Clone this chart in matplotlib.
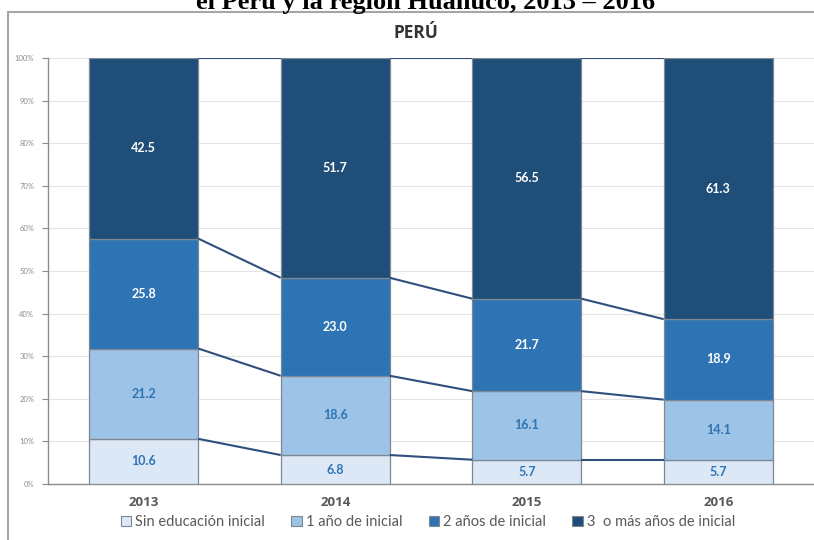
import matplotlib.pyplot as plt
import numpy as np
from matplotlib.patches import Rectangle, Patch

# Data (percent)
years = ["2013", "2014", "2015", "2016"]
sin_inicial = [10.6, 6.8, 5.7, 5.7]
un_anio = [21.2, 18.6, 16.1, 14.1]
dos_anios = [25.8, 23.0, 21.7, 18.9]
tres_mas = [42.5, 51.7, 56.5, 61.3]
series_names = ["Sin educación inicial", "1 año de inicial",
                "2 años de inicial", "3  o más años de inicial"]

colors = ["#DCE8F5", "#9DC3E6", "#2E74B5", "#1F4E79"]
label_colors = ["#2E74B5", "#2E74B5", "white", "white"]

plt.rcParams['font.family'] = ['Lato', 'DejaVu Sans']

fig = plt.figure(figsize=(8.14, 5.40), dpi=100)
ax = fig.add_axes([48 / 814, 1 - 484 / 540, 1 - 48 / 814, (484 - 58) / 540])

x = np.arange(len(years))
width = 0.57
data = [sin_inicial, un_anio, dos_anios, tres_mas]
bottom = np.zeros(len(years))
tops = []
for vals, col, lcol in zip(data, colors, label_colors):
    vals = np.array(vals)
    ax.bar(x, vals, width, bottom=bottom, color=col, edgecolor="#7F8890",
           linewidth=0.9, zorder=3)
    for xi, b, v in zip(x, bottom, vals):
        ax.text(xi, b + v / 2, f"{v:.1f}", ha="center", va="center",
                fontsize=9, fontweight="bold", color=lcol, zorder=5)
    bottom = bottom + vals
    tops.append(np.minimum(bottom.copy(), 100))

# series lines between bars
for t in tops:
    for i in range(len(years) - 1):
        ax.plot([x[i] + width / 2, x[i + 1] - width / 2], [t[i], t[i + 1]],
                color="#2F4F7F", linewidth=1.5, zorder=4, solid_capstyle="butt")

ax.set_xlim(-0.5, 3.5)
ax.set_ylim(0, 100)
ax.set_yticks(np.arange(0, 101, 10))
ax.set_yticklabels([f"{v}%" for v in range(0, 101, 10)], fontsize=5.5,
                   color="#8C8C8C")
ax.set_xticks(x)
ax.set_xticklabels(years, fontsize=9.5, fontweight="bold", color="#595959",
                   family="Open Sans")
ax.tick_params(axis="x", length=0, pad=9)
ax.tick_params(axis="y", length=4, width=0.8, color="#8C8C8C", pad=6)
ax.yaxis.grid(True, color="#E3E3E3", linewidth=0.8, zorder=0)
ax.set_axisbelow(True)
for s in ["top", "right"]:
    ax.spines[s].set_visible(False)
ax.spines["left"].set_color("#8C8C8C")
ax.spines["bottom"].set_color("#8C8C8C")
ax.spines["left"].set_linewidth(1.0)
ax.spines["bottom"].set_linewidth(1.0)

# outer frame of the chart
fig.patches.append(Rectangle((8 / 814, -0.1), 1.2, 1.1 - 12 / 540,
                             transform=fig.transFigure, fill=False,
                             edgecolor="#A6A6A6", linewidth=1.5))

fig.text(416 / 814, 1 - 33 / 540, "PERÚ", ha="center", va="center", fontsize=12.5,
         fontweight="bold", color="#333333", family="Open Sans")
# title line is cut at the top edge, as in the source image
fig.text(426 / 814, 1 - 9.5 / 540, "el Perú y la región Huánuco, 2013 – 2016",
         ha="center", va="baseline", fontsize=19, fontweight="bold",
         family="Liberation Serif", color="black")

handles = [Patch(facecolor=c, edgecolor="#7F8890", linewidth=0.8) for c in colors]
fig.legend(handles, series_names, loc="center", bbox_to_anchor=(428 / 814, 1 - 522 / 540),
           ncol=4, frameon=False, fontsize=10.5, handlelength=0.7, handleheight=0.7,
           handletextpad=0.3, columnspacing=1.8, labelcolor="#595959")

fig.savefig("out.png", dpi=100)
